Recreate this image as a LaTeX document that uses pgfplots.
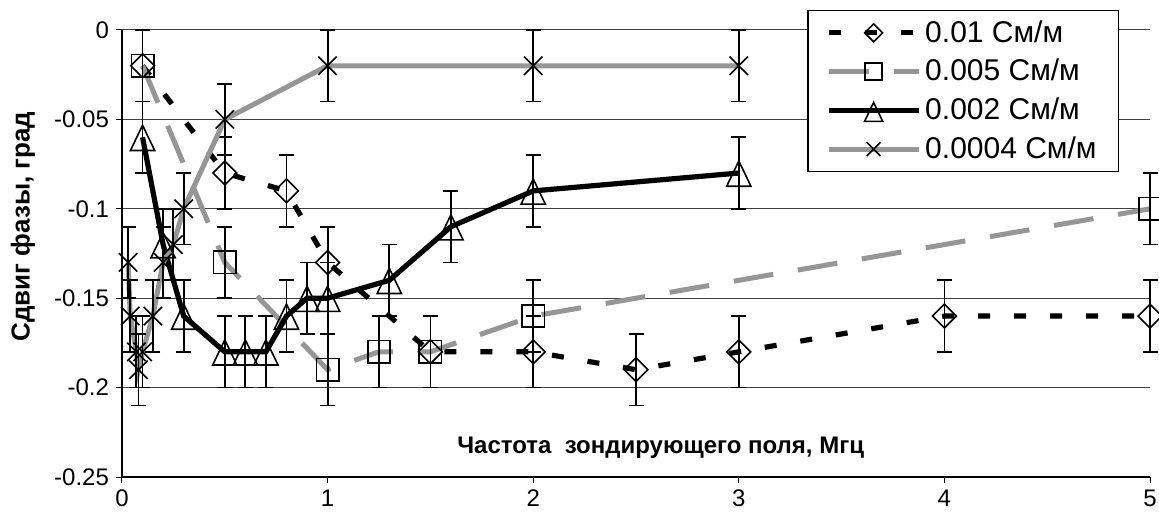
\documentclass[border=0pt]{standalone}
\usepackage{fontspec}
\setmainfont{Liberation Sans}
\usepackage{pgfplots}
\pgfplotsset{compat=1.18}
\definecolor{exgray}{RGB}{150,150,150}
\begin{document}
\begin{tikzpicture}
\useasboundingbox (-61pt,-23.5pt) rectangle (518.5pt,238.5pt);
\begin{axis}[
  scale only axis,
  width=514pt, height=223.5pt,
  xmin=0, xmax=5, ymin=-0.25, ymax=0,
  axis lines=left, axis line style={-, black, line width=0.6pt},
  xtick={0,1,2,3,4,5}, xticklabels={0,1,2,3,4,5},
  ytick={-0.25,-0.2,-0.15,-0.1,-0.05,0},
  yticklabels={-0.25,-0.2,-0.15,-0.1,-0.05,0},
  tick align=outside, major tick length=3pt,
  tick style={black, line width=0.5pt},
  ymajorgrids, grid style={black!75, line width=0.5pt},
  ticklabel style={font=\fontsize{12}{14}\selectfont},
  ylabel={\bfseries Сдвиг фазы, град},
  ylabel style={at={(axis description cs:-0.0963,0.56)}, anchor=center, font=\fontsize{13}{15}\selectfont},
  clip=false,
  legend style={at={(rel axis cs:0.97,1.045)}, anchor=north east, draw=black, line width=0.6pt,
    font=\fontsize{15}{18}\selectfont, inner xsep=9pt, inner ysep=3pt, row sep=3pt},
  legend cell align=left,
  legend image code/.code={\draw[mark repeat=2,mark phase=2,#1,every mark/.append style={scale=0.75}] plot coordinates {(0pt,0pt) (22.5pt,0pt) (45pt,0pt)};},
  every axis plot/.append style={
    error bars/y dir=both, error bars/y explicit,
    error bars/error bar style={black, solid, line width=0.9pt},
    error bars/error mark options={black, solid, line width=0.9pt, mark size=3.75pt, rotate=90}},
]
% 0.01 S/m
\addplot[black, line width=2.6pt, dash pattern=on 6pt off 12pt,
  mark=square, mark size=4.2pt, mark options={solid, black, line width=0.8pt, rotate=45}]
  coordinates {
  (0.1,-0.02) +- (0,0.02)
  (0.5,-0.08) +- (0,0.02)
  (0.8,-0.09) +- (0,0.02)
  (1,-0.13) +- (0,0.02)
  (1.5,-0.18) +- (0,0.02)
  (2,-0.18) +- (0,0.02)
  (2.5,-0.19) +- (0,0.02)
  (3,-0.18) +- (0,0.02)
  (4,-0.16) +- (0,0.02)
  (5,-0.16) +- (0,0.02)
  };
\addlegendentry{0.01 См/м}
% 0.005 S/m
\addplot[exgray, line width=2.5pt, dash pattern=on 20pt off 12.5pt,
  mark=square, mark size=5.6pt, mark options={solid, black, line width=0.8pt}]
  coordinates {
  (0.1,-0.02) +- (0,0.02)
  (0.5,-0.13) +- (0,0.02)
  (1,-0.19) +- (0,0.02)
  (1.25,-0.18) +- (0,0.02)
  (1.5,-0.18) +- (0,0.02)
  (2,-0.16) +- (0,0.02)
  (5,-0.1) +- (0,0.02)
  };
\addlegendentry{0.005 См/м}
% 0.002 S/m
\addplot[black, line width=2.6pt,
  mark=triangle, mark size=7pt, mark options={solid, black, line width=0.8pt, yscale=1.2, yshift=-2pt}]
  coordinates {
  (0.1,-0.06) +- (0,0.02)
  (0.2,-0.12) +- (0,0.02)
  (0.3,-0.16) +- (0,0.02)
  (0.5,-0.18) +- (0,0.02)
  (0.6,-0.18) +- (0,0.02)
  (0.7,-0.18) +- (0,0.02)
  (0.8,-0.16) +- (0,0.02)
  (0.9,-0.15) +- (0,0.02)
  (1,-0.15) +- (0,0.02)
  (1.3,-0.14) +- (0,0.02)
  (1.6,-0.11) +- (0,0.02)
  (2,-0.09) +- (0,0.02)
  (3,-0.08) +- (0,0.02)
  };
\addlegendentry{0.002 См/м}
% 0.0004 S/m
\addplot[exgray, line width=2.5pt,
  mark=x, mark size=6.5pt, mark options={solid, black, line width=0.8pt}]
  coordinates {
  (0.03,-0.13) +- (0,0.02)
  (0.04,-0.16) +- (0,0.02)
  (0.07,-0.18) +- (0,0.02)
  (0.08,-0.19) +- (0,0.02)
  (0.1,-0.18) +- (0,0.02)
  (0.15,-0.16) +- (0,0.02)
  (0.2,-0.13) +- (0,0.02)
  (0.25,-0.12) +- (0,0.02)
  (0.3,-0.1) +- (0,0.02)
  (0.5,-0.05) +- (0,0.02)
  (1,-0.02) +- (0,0.02)
  (2,-0.02) +- (0,0.02)
  (3,-0.02) +- (0,0.02)
  };
\addlegendentry{0.0004 См/м}
\node[font=\bfseries\fontsize{12}{14}\selectfont] at (axis cs:2.62,-0.2335) {Частота\ \ зондирующего поля, Мгц};
\end{axis}
\end{tikzpicture}
\end{document}
